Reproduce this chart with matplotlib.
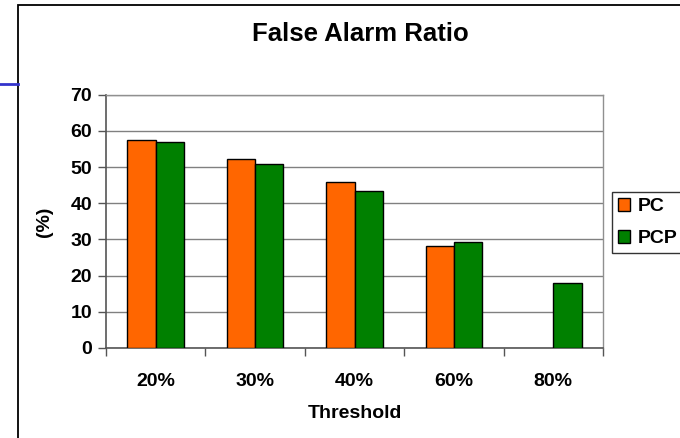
import matplotlib
matplotlib.use("Agg")
import matplotlib.pyplot as plt
from matplotlib.patches import Rectangle
from matplotlib.lines import Line2D
import numpy as np

categories = ["20%", "30%", "40%", "60%", "80%"]
pc_values = [57.4, 52.1, 45.9, 28.3, np.nan]
pcp_values = [56.8, 50.8, 43.5, 29.2, 18.0]
series_names = ["PC", "PCP"]
y_ticks = [0, 10, 20, 30, 40, 50, 60, 70]

plt.rcParams["font.family"] = ["Liberation Sans", "DejaVu Sans"]
plt.rcParams["font.weight"] = "bold"

W, H = 680, 438
fig = plt.figure(figsize=(W / 100, H / 100), dpi=100)

# chart area frame and side accent
fig.patches.append(Rectangle((18 / W, -0.01), 1.0, 1 - 4.5 / H + 0.01,
                             transform=fig.transFigure, fill=False,
                             edgecolor="black", linewidth=1.3))
fig.lines.append(Line2D([0, 18 / W], [1 - 84 / H, 1 - 84 / H],
                        transform=fig.transFigure, color="#3333cc", linewidth=2))

ax = fig.add_axes([106 / W, 1 - 348 / H, (603 - 106) / W, (348 - 94.7) / H])

x = np.arange(len(categories))
bw = 0.57 / 2
ax.bar(x - bw / 2, pc_values, width=bw, color="#FF6600", edgecolor="black",
       linewidth=1, label=series_names[0], zorder=3)
ax.bar(x + bw / 2, pcp_values, width=bw, color="#008000", edgecolor="black",
       linewidth=1, label=series_names[1], zorder=3)

fs = 14
ax.set_xlim(-0.5, len(categories) - 0.5)
ax.set_ylim(0, 70)
ax.set_yticks(y_ticks)
ax.set_yticklabels([str(v) for v in y_ticks], fontsize=fs, fontweight="bold")
ax.yaxis.grid(True, color="#808080", linewidth=1, zorder=0)
ax.set_axisbelow(True)

# category labels centred, tick marks between categories
ax.set_xticks(x)
ax.set_xticklabels(categories, fontsize=fs, fontweight="bold")
ax.tick_params(axis="x", which="major", length=0, pad=18)
ax.set_xticks(np.arange(len(categories) + 1) - 0.5, minor=True)
ax.tick_params(axis="x", which="minor", length=6, width=1, color="#555555",
               direction="out")
ax.tick_params(axis="y", length=6, width=1, color="#555555", direction="out", pad=4)

for side in ["left", "bottom"]:
    ax.spines[side].set_color("#555555")
    ax.spines[side].set_linewidth(1.2)
for side in ["top", "right"]:
    ax.spines[side].set_color("#909090")
    ax.spines[side].set_linewidth(1)

ax.set_xlabel("Threshold", fontsize=fs, fontweight="bold", va="center")
ax.xaxis.set_label_coords(0.5, (348 - 413) / (348 - 94.7))
ax.set_ylabel("(%)", fontsize=fs, fontweight="bold", va="center")
ax.yaxis.set_label_coords((45 - 106) / (603 - 106), 0.5)

fig.text(360 / W, 1 - 34 / H, "False Alarm Ratio", ha="center", va="center",
         fontsize=18.5, fontweight="bold")

leg = fig.legend(loc="upper left", bbox_to_anchor=(612 / W, 1 - 192 / H),
                 bbox_transform=fig.transFigure, frameon=True, fancybox=False,
                 edgecolor="black", fontsize=fs, handlelength=0.62,
                 handleheight=0.62, handletextpad=0.4, borderpad=0.32,
                 labelspacing=0.75, borderaxespad=0)
leg.get_frame().set_linewidth(1)
for t in leg.get_texts():
    t.set_fontweight("bold")

fig.savefig("out.png", dpi=100)
